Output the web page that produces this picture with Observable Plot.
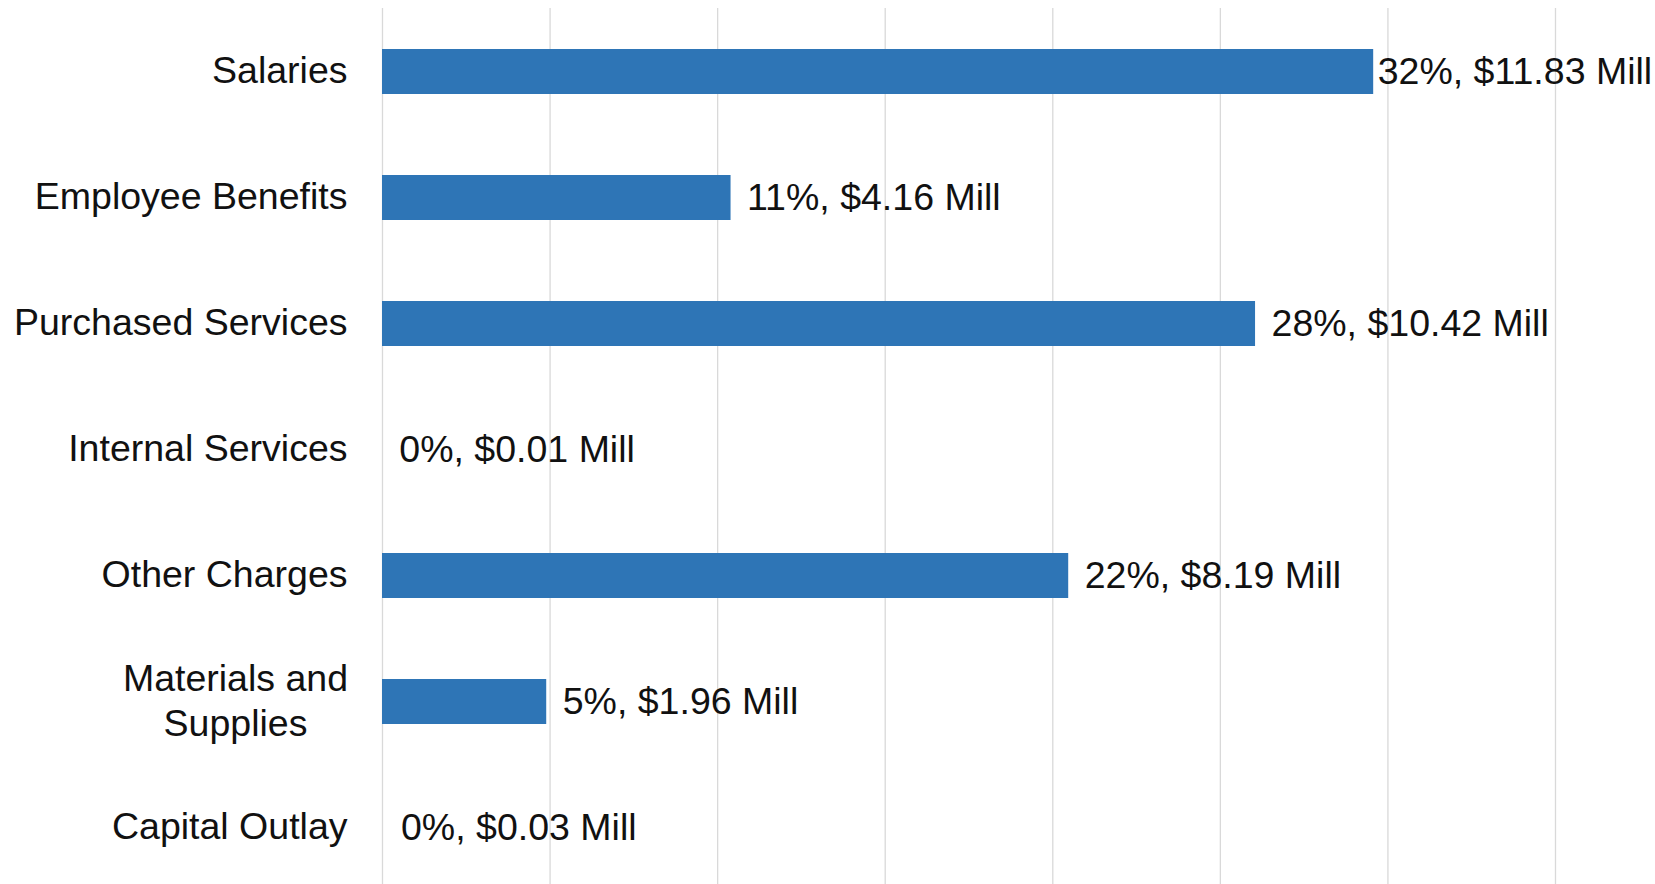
<!DOCTYPE html>
<html>
<head>
<meta charset="utf-8">
<script src="https://cdn.jsdelivr.net/npm/d3@7"></script>
<script src="https://cdn.jsdelivr.net/npm/@observablehq/plot@0.6"></script>
<style>
  html, body { margin: 0; padding: 0; background: #fff; }
  #chart svg { display: block; }
</style>
</head>
<body>
<div id="chart"></div>
<script>
const categories = ["Salaries", "Employee Benefits", "Purchased Services", "Internal Services", "Other Charges", "Materials and\nSupplies", "Capital Outlay"];
const amounts = [11.83, 4.16, 10.42, 0.01, 8.19, 1.96, 0.03];
const percents = [32, 11, 28, 0, 22, 5, 0];
const xTicks = [0, 2, 4, 6, 8, 10, 12, 14];

const data = categories.map((c, i) => ({
  category: c,
  amount: amounts[i],
  pct: percents[i],
  label: `${percents[i]}%, $${amounts[i].toFixed(2)} Mill`
}));

const FONT = "'Liberation Sans', Arial, Helvetica, sans-serif";
const FS = 37.5;
const multiLine = data.filter(d => d.category.includes("\n"));
const singleLine = data.filter(d => !d.category.includes("\n"));

const chart = Plot.plot({
  width: 1655,
  height: 884,
  marginLeft: 382,
  marginRight: 100,
  marginTop: 8,
  marginBottom: 0,
  style: { fontFamily: FONT, background: "#fff" },
  x: { domain: [0, 14], axis: null },
  y: { domain: categories, range: [8, 890], paddingInner: 0.643, paddingOuter: 0.3215, axis: null },
  marks: [
    Plot.gridX(xTicks, { stroke: "#d9d9d9", strokeOpacity: 1, strokeWidth: 1.3 }),
    // bars that round to 0% are not visible in the original
    Plot.barX(data.filter(d => d.pct > 0), { x: "amount", y: "category", fill: "#2E75B6" }),
    // category labels
    Plot.text(singleLine, { y: "category", text: "category", frameAnchor: "left", textAnchor: "end", dx: -35, dy: -1.5, fontSize: FS, fill: "#111" }),
    Plot.text(multiLine, { y: "category", text: "category", frameAnchor: "left", textAnchor: "middle", dx: -147, dy: -3, lineHeight: 1.19, fontSize: FS, fill: "#111" }),
    // value labels
    Plot.text(data.filter(d => d.amount < 11), { x: "amount", y: "category", text: "label", textAnchor: "start", dx: 16, fontSize: FS, fill: "#111" }),
    Plot.text(data.filter(d => d.amount >= 11), { x: "amount", y: "category", text: "label", textAnchor: "start", dx: 4, fontSize: FS, fill: "#111" })
  ]
});

document.getElementById("chart").appendChild(chart);
</script>
</body>
</html>
